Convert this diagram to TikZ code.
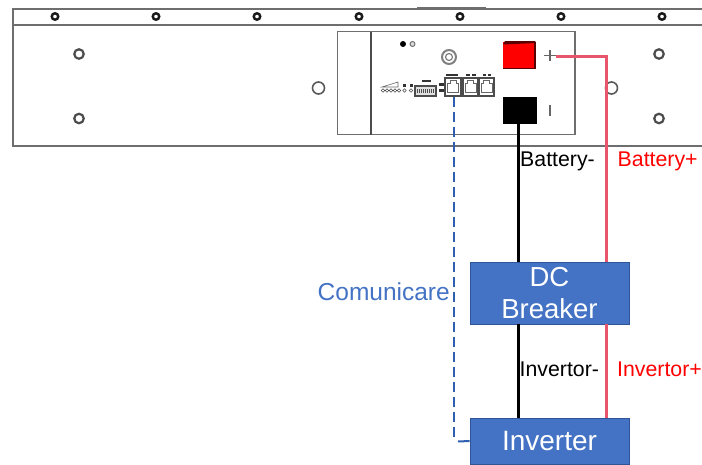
\documentclass[tikz,border=0pt]{standalone}
\usepackage{fontspec}
\setmainfont{Liberation Sans}
\definecolor{boxblue}{HTML}{4472C4}
\definecolor{boxedge}{HTML}{2F5597}
\definecolor{posline}{HTML}{E8566C}
\definecolor{dashblue}{HTML}{2F5FB0}
\definecolor{frameg}{HTML}{6E6E6E}
\tikzset{
  frameline/.style={draw=frameg,line width=2pt},
  panelline/.style={draw=frameg,line width=1.1pt},
  screw/.style={circle,draw=black!90,line width=2.4pt,fill=white,minimum size=6.5pt,inner sep=0pt},
  hole/.style={circle,draw=black!70,line width=2.2pt,fill=white,minimum size=9.5pt,inner sep=0pt},
  bighole/.style={circle,draw=black!65,line width=1.6pt,fill=white,minimum size=12pt,inner sep=0pt},
  bluebox/.style={rectangle,draw=boxedge,fill=boxblue,line width=0.7pt,text=white,font=\fontsize{27.5}{33}\selectfont,align=center,inner sep=0pt,minimum width=159pt},
  wireneg/.style={draw=black,line width=3pt},
  wirepos/.style={draw=posline,line width=3pt},
  comm/.style={draw=dashblue,line width=2pt},
  lab/.style={font=\fontsize{21.3}{25}\selectfont,inner sep=0pt},
  led/.style={circle,draw=black!70,line width=0.6pt,fill=white,minimum size=3.4pt,inner sep=0pt},
  portbox/.style={rectangle,draw=black!70,line width=1.2pt,fill=white,inner sep=0pt},
  tick/.style={fill=black!80,draw=none}
}
\begin{document}
\begin{tikzpicture}[x=1pt,y=-1pt]
\useasboundingbox (0,0) rectangle (702,464);
% frame
\draw[frameline] (702,8.5) -- (12.5,8.5) -- (12.5,145.5) -- (702,145.5);
\draw[frameline] (12.5,24.5) -- (702,24.5);
\draw[draw=frameg,line width=0.8pt] (417,7.5) -- (486,7.5);
% screws
\foreach \n/\x in {s1/55,s2/156,s3/257,s4/359,s5/460,s6/561,s7/662}
  \node[screw] (\n) at (\x,16.5) {};
% holes
\node[hole] (h1) at (79,54) {};
\node[hole] (h2) at (79,118.5) {};
\node[hole] (h3) at (659,54) {};
\node[hole] (h4) at (659,118.5) {};
\node[bighole] (h5) at (318.5,88) {};
\node[bighole] (h6) at (611.5,88) {};
% panel
\draw[panelline] (337.5,31.5) rectangle (575,134.5);
\draw[draw=black!70,line width=1.1pt] (371,31.5) -- (371,134.5);
% small parts
\node[circle,fill=black,minimum size=6pt,inner sep=0pt] (d1) at (403,44) {};
\node[circle,draw=black!55,fill=black!15,line width=1pt,minimum size=5pt,inner sep=0pt] (d2) at (412.5,44) {};
\node[circle,draw=black!50,line width=2pt,fill=white,minimum size=14pt,inner sep=0pt] (gnd) at (449,57) {};
\node[circle,draw=black!50,line width=1.2pt,minimum size=7pt,inner sep=0pt] (gndi) at (449,57) {};
\foreach \n/\x in {l1/383,l2/387,l3/391,l4/395,l5/399,l6/404.5,l7/411}
  \node[led] (\n) at (\x,90.5) {};
\draw[draw=black!60,line width=0.6pt] (382,87) -- (398,82) -- (398,87) -- cycle;
\fill[tick] (402.5,84) rectangle (406,86.5);
\fill[tick] (409.5,84) rectangle (413,86.5);
\fill[tick] (421.5,80) rectangle (431,82);
\draw[draw=black!70,fill=black!12,line width=1.1pt] (415,86) rectangle (436,96);
\foreach \x in {417,419,...,433} \fill[black!70] (\x,89) rectangle (\x+1,92.5);
\fill[tick] (439,83) rectangle (444,85.5);
\fill[tick] (439,89) rectangle (444,92);
% ports
\node[portbox,minimum width=16pt,minimum height=18pt] (p1) at (453,87) {};
\node[portbox,minimum width=15pt,minimum height=18pt] (p2) at (470.5,87) {};
\node[portbox,minimum width=15pt,minimum height=18pt] (p3) at (486.5,87) {};
\foreach \x in {453,470.5,486.5}
  \draw[draw=black!60,line width=0.8pt] (\x-5.5,92) -- (\x-5.5,83) -- (\x-3,83) -- (\x-3,80.5) -- (\x+3,80.5) -- (\x+3,83) -- (\x+5.5,83) -- (\x+5.5,92) -- cycle;
\fill[tick] (446,74) rectangle (458,76);
\fill[tick] (466,74) rectangle (470,76);
\fill[tick] (472,74) rectangle (476,76);
\fill[tick] (483,74) rectangle (486,76);
\fill[tick] (488,74) rectangle (491,76);
% terminals
\node[rectangle,fill=red,minimum width=33pt,minimum height=27pt,inner sep=0pt] (tpos) at (519.5,55.5) {};
\fill[black!65!red] (505,41) -- (535,41) -- (536,43) -- (503,44.5) -- cycle;
\fill[black!65!red] (534,42) rectangle (536,69);
\fill[black!65!red] (503,67.5) rectangle (536,69);
\node[rectangle,fill=black,minimum width=34pt,minimum height=27pt,inner sep=0pt] (tneg) at (519.5,110.5) {};
\draw[draw=black!60,line width=1.2pt] (544,55.5) -- (556,55.5);
\draw[draw=black!60,line width=1.2pt] (550,50) -- (550,61);
\draw[draw=black!60,line width=1.2pt] (550,105) -- (550,116);
\coordinate (plus) at (556,56);
% boxes
\node[bluebox,minimum height=62pt] (brk) at (549.5,293) {\raisebox{-1pt}{DC}\\Breaker};
\node[bluebox,minimum height=46pt,font=\fontsize{28}{33}\selectfont] (inv) at (549.5,441) {\raisebox{-1.5pt}{Inverter}};
% wires
\draw[wireneg] (tneg.south -| 518,0) -- (brk.north -| 518,0);
\draw[wireneg] (brk.south -| 518,0) -- (inv.north -| 518,0);
\draw[wirepos] (plus) -- (606,56) -- (brk.north -| 606,0);
\draw[wirepos] (brk.south -| 606,0) -- (inv.north -| 606,0);
\draw[comm,dash pattern=on 10pt off 5pt] (p1.south -| 453.5,0) -- (453.5,441.5);
\draw[comm] (458,441.5) -- (inv.west);
% labels
\node[lab,anchor=west,text=black] (bm) at (520,161) {Battery-};
\node[lab,anchor=west,text=red] (bp) at (617.5,161) {Battery+};
\node[lab,anchor=west,text=black] (im) at (519.5,369) {Invertor-};
\node[lab,anchor=west,text=red] (ip) at (617,369) {Invertor+};
\node[anchor=east,inner sep=0pt,text=boxblue,font=\fontsize{24.5}{28}\selectfont] (com) at (450,292) {Comunicare};
\end{tikzpicture}
\end{document}
